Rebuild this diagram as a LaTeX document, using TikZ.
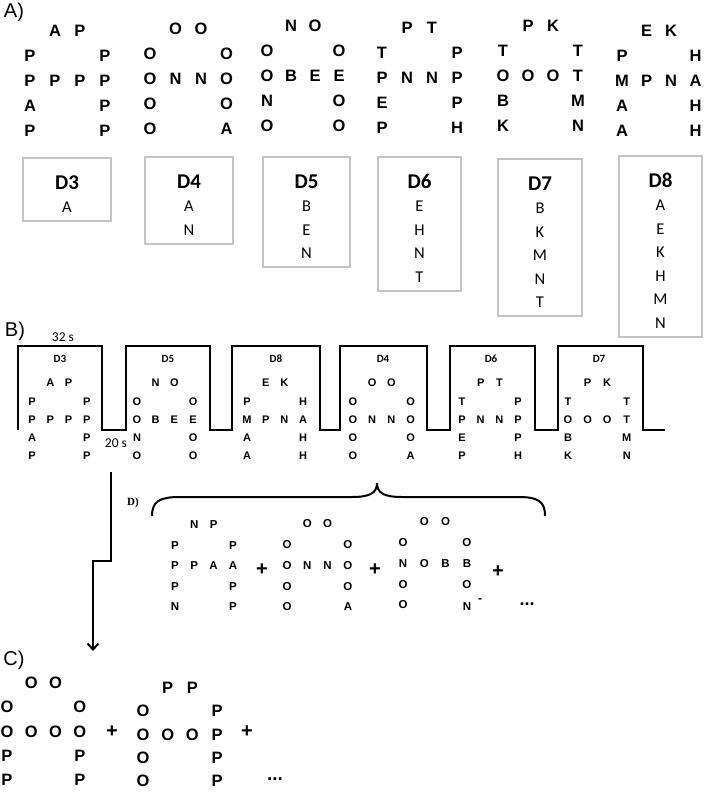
\documentclass[tikz,border=0pt]{standalone}
\usepackage{fontspec}
\usetikzlibrary{arrows.meta}
\newfontfamily\gridfont{Liberation Sans}
\newfontfamily\calfont{Carlito}
\newfontfamily\serffont{Liberation Serif}
\definecolor{boxgray}{HTML}{C4C4C4}

% letter grid: style, name, x0, y0, dx, dy, the 12 letters
\newcommand{\lgrid}[7]{%
  \foreach \t [count=\i] in {#7} {
    \pgfmathsetmacro\gc{{1,2,0,3,0,1,2,3,0,3,0,3}[\i-1]}
    \pgfmathsetmacro\gr{{0,0,1,1,2,2,2,2,3,3,4,4}[\i-1]}
    \node[#1] (#2-\i) at ({#3+\gc*#5},{#4+\gr*#6}) {\t};
  }
}

\begin{document}
\begin{tikzpicture}[x=1pt,y=-1pt,
  big/.style={font=\gridfont\bfseries\fontsize{16.5}{16.5}\selectfont, inner sep=0pt},
  small/.style={font=\gridfont\bfseries\fontsize{11}{11}\selectfont, inner sep=0pt},
  mid/.style={font=\gridfont\bfseries\fontsize{11.5}{11.5}\selectfont, inner sep=0pt},
  panel/.style={font=\gridfont\fontsize{20}{20}\selectfont, inner sep=0pt},
  dbox/.style={draw=boxgray, line width=2.2pt, anchor=north, align=center, inner xsep=0pt, inner ysep=8.5pt, font=\calfont\fontsize{16.5}{23.5}\selectfont},
  plabel/.style={font=\calfont\bfseries\fontsize{11}{11}\selectfont, inner sep=0pt},
  secs/.style={font=\calfont\fontsize{13.5}{13.5}\selectfont, inner sep=0pt},
  plus/.style={font=\gridfont\bfseries\fontsize{20}{20}\selectfont, inner sep=0pt}]
\useasboundingbox (0,0) rectangle (714,792);

% A)
\node[panel] (pa) at (14,12.5) {A)};
\lgrid{big}{a3}{30}{31}{25}{25}{A,P,P,P,P,P,P,P,A,P,P,P}
\lgrid{big}{a4}{150}{29}{25.5}{25}{O,O,O,O,O,N,N,O,O,O,O,A}
\lgrid{big}{a5}{267}{26}{24}{25}{N,O,O,O,O,B,E,E,N,O,O,O}
\lgrid{big}{a6}{382}{28}{25}{25}{P,T,T,P,P,N,N,P,E,P,P,H}
\lgrid{big}{a7}{503}{26}{25}{25}{P,K,T,T,O,O,O,T,B,M,K,N}
\lgrid{big}{a8}{622}{31}{24.5}{25}{E,K,P,H,M,P,N,A,A,H,A,H}

\node[dbox, minimum width=88pt] (box3) at (67,157) {\rule{0pt}{22.5pt}{\fontsize{21}{21}\selectfont\bfseries D3}\\A};
\node[dbox, minimum width=88pt] (box4) at (189,156) {\rule{0pt}{22.5pt}{\fontsize{21}{21}\selectfont\bfseries D4}\\A\\N};
\node[dbox, minimum width=87pt] (box5) at (306.5,156) {\rule{0pt}{22.5pt}{\fontsize{21}{21}\selectfont\bfseries D5}\\B\\E\\N};
\node[dbox, minimum width=83pt] (box6) at (419.5,156) {\rule{0pt}{22.5pt}{\fontsize{21}{21}\selectfont\bfseries D6}\\E\\H\\N\\T};
\node[dbox, minimum width=84pt] (box7) at (540,158) {\rule{0pt}{22.5pt}{\fontsize{21}{21}\selectfont\bfseries D7}\\B\\K\\M\\N\\T};
\node[dbox, minimum width=83pt] (box8) at (660.5,155) {\rule{0pt}{22.5pt}{\fontsize{21}{21}\selectfont\bfseries D8}\\A\\E\\K\\H\\M\\N};

% B)
\node[panel] (pb) at (15,331) {B)};
\node[secs] (t32) at (63,337.5) {32 s};
\node[secs] (t20) at (116,443) {20 s};
\draw[line width=2.4pt] (18,430) -- (18,346) -- (102,346) -- (102,430) -- (126,430)
  -- (126,346) -- (210,346) -- (210,430) -- (232,430) -- (232,346) -- (320,346)
  -- (320,430) -- (340,430) -- (340,346) -- (427,346) -- (427,430) -- (450,430)
  -- (450,346) -- (535,346) -- (535,430) -- (558,430) -- (558,346) -- (643,346)
  -- (643,430) -- (665,430);
\node[plabel] (l3) at (60,359) {D3};
\node[plabel] (l5) at (168,359) {D5};
\node[plabel] (l8) at (276,359) {D8};
\node[plabel] (l4) at (383,359) {D4};
\node[plabel] (l6) at (491,359) {D6};
\node[plabel] (l7) at (599,359) {D7};
\lgrid{small}{b3}{32}{383}{18.3}{18.3}{A,P,P,P,P,P,P,P,A,P,P,P}
\lgrid{small}{b5}{137}{383}{18.7}{18.3}{N,O,O,O,O,B,E,E,N,O,O,O}
\lgrid{small}{b8}{247}{383}{18.7}{18.3}{E,K,P,H,M,P,N,A,A,H,A,H}
\lgrid{small}{b4}{353}{383}{19.2}{18.3}{O,O,O,O,O,N,N,O,O,O,O,A}
\lgrid{small}{b6}{462}{383}{18.7}{18.3}{P,T,T,P,P,N,N,P,E,P,P,H}
\lgrid{small}{b7}{568}{383}{19.6}{18.3}{P,K,T,T,O,O,O,T,B,M,K,N}

% arrow down to C)
\coordinate (arrs) at (111,472);
\coordinate (arre) at (93,651);
\draw[line width=2pt, -{Straight Barb[length=6pt,width=11pt,line width=2pt]}] (arrs) |- (93,561) -- (arre);

% D)
\node[font=\serffont\bfseries\fontsize{11}{11}\selectfont, inner sep=0pt] (pd) at (133,503) {D)};
\draw[line width=2pt] (152,516) .. controls (152,501) and (160,497) .. (180,497) -- (352,497)
  .. controls (370,497) and (377,493) .. (377,483) .. controls (377,493) and (384,497) .. (402,497)
  -- (518,497) .. controls (538,497) and (545,501) .. (545,516);
\lgrid{mid}{d1}{175}{525}{19.3}{20.5}{N,P,P,P,P,P,A,A,P,P,N,P}
\lgrid{mid}{d2}{287}{524}{20.3}{20.7}{O,O,O,O,O,N,N,O,O,O,O,A}
\lgrid{mid}{d3}{403}{522}{21.3}{20.7}{O,O,O,O,N,O,B,B,O,O,O,N\rlap{\hspace{7pt}\raisebox{8pt}{\fontsize{12}{12}\selectfont -}}}
\node[plus] (dp1) at (262,570) {+};
\node[plus] (dp2) at (375,570) {+};
\node[plus] (dp3) at (498,572) {+};
\node[mid, font=\gridfont\bfseries\fontsize{18}{18}\selectfont] (ddots) at (527,604) {...};

% C)
\node[panel] (pc) at (14,660) {C)};
\lgrid{big}{c1}{7}{683}{24.3}{24.3}{O,O,O,O,O,O,O,O,P,P,P,P}
\lgrid{big}{c2}{143}{688}{24.7}{23.2}{P,P,O,P,O,O,O,P,O,P,O,P}
\node[plus] (cp1) at (112,732) {+};
\node[plus] (cp2) at (247,732) {+};
\node[big, font=\gridfont\bfseries\fontsize{19}{19}\selectfont] (cdots) at (275,779) {...};
\end{tikzpicture}
\end{document}
